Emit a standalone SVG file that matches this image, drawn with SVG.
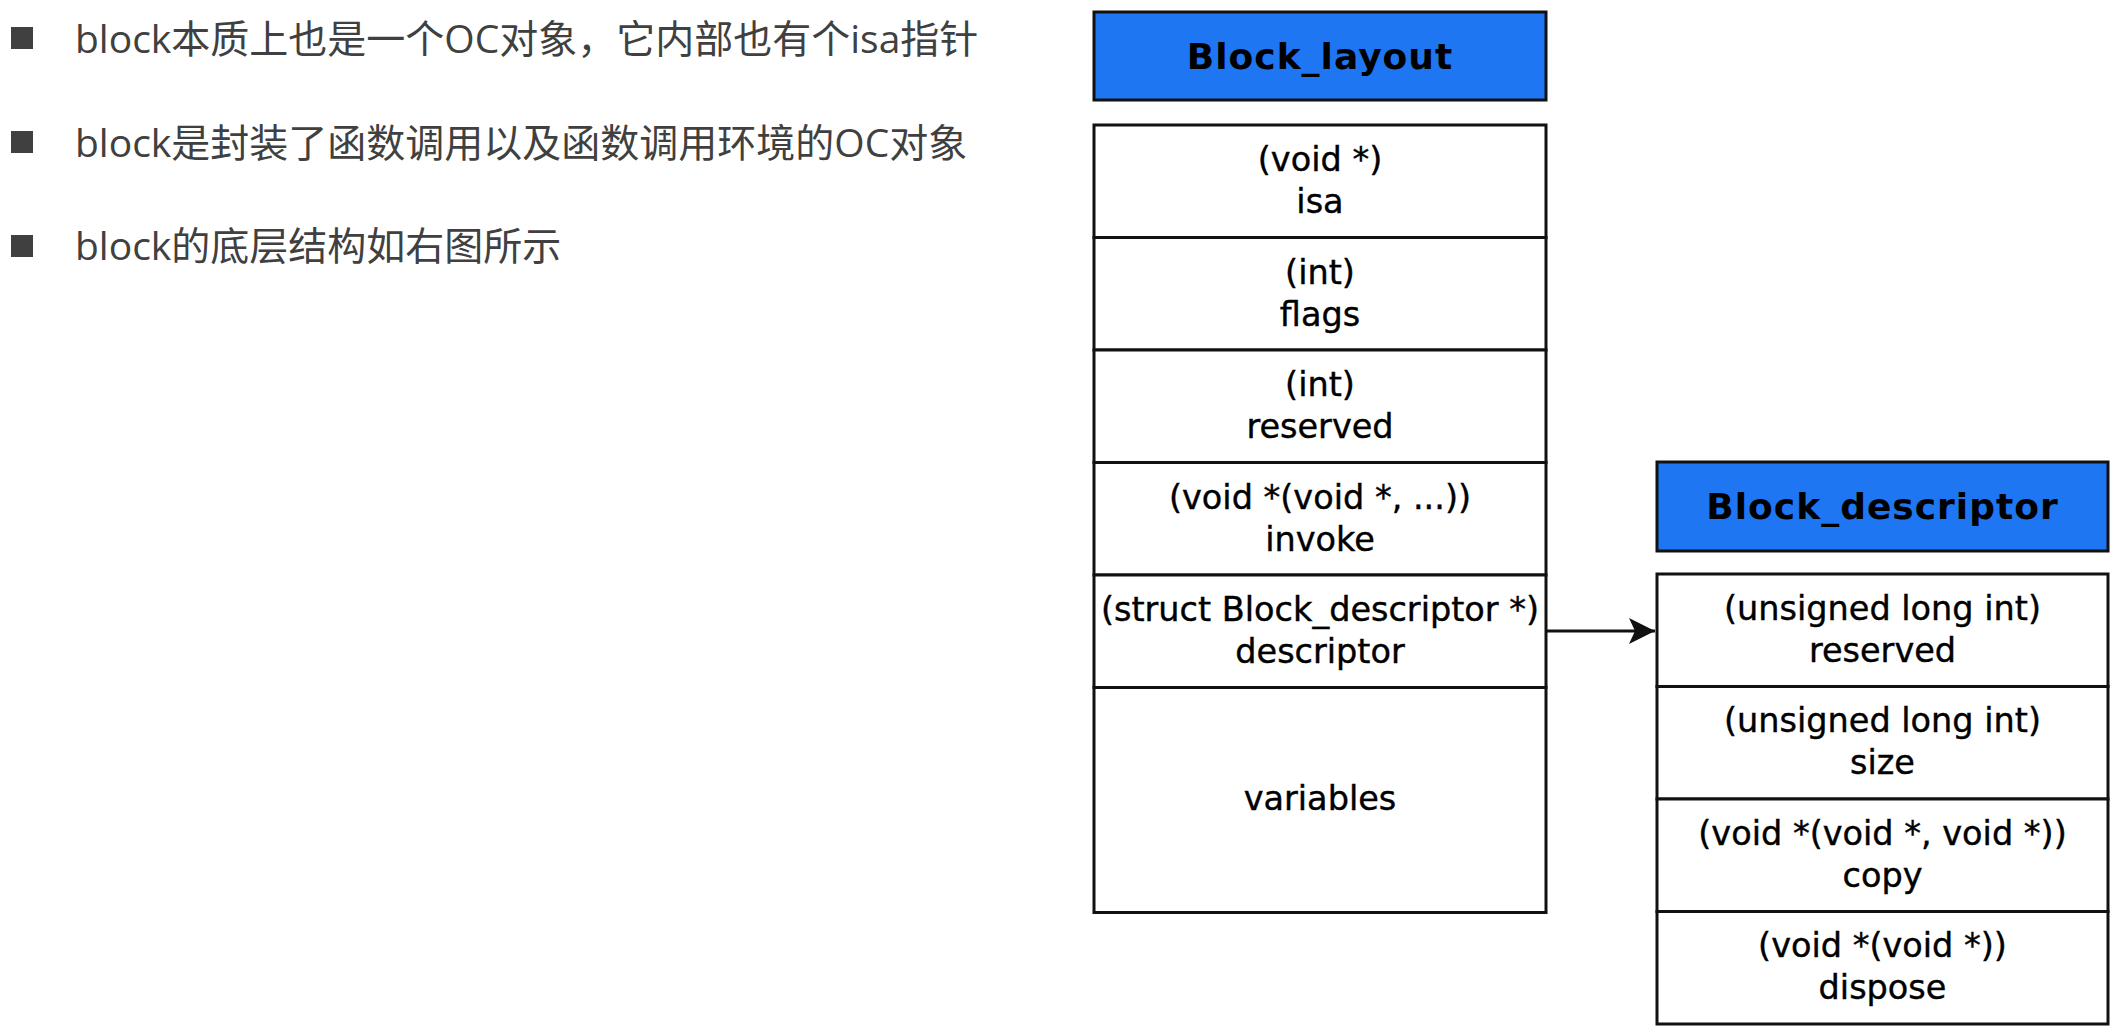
<svg xmlns="http://www.w3.org/2000/svg" width="2120" height="1036" viewBox="0 0 2120 1036">
  <style>
    .bullet-text { font-family: "Open Sans", "Noto Sans CJK SC", sans-serif; font-size: 39px; fill: #404040; }
    .bullet { fill: #404040; }
    .head { fill: #1f76f3; stroke: #111; stroke-width: 3; }
    .head-text { font-family: "DejaVu Sans", sans-serif; font-weight: bold; font-size: 36px; letter-spacing: 1px; fill: #000; text-anchor: middle; }
    .field { fill: #fff; stroke: #111; stroke-width: 3; }
    .field-text { font-family: "DejaVu Sans", sans-serif; font-size: 33.5px; fill: #000; stroke: #000; stroke-width: 0.4; text-anchor: middle; }
    .link { stroke: #111; stroke-width: 3; fill: none; }
  </style>
  <defs>
    <marker id="arrow" markerUnits="userSpaceOnUse" markerWidth="30" markerHeight="30" refX="26" refY="13" orient="auto">
      <path d="M0,0 L26,13 L0,26 L6,13 Z" fill="#111"/>
    </marker>
  </defs>

  <rect width="2120" height="1036" fill="#fff"/>

  <!-- bullet list -->
  <g id="notes">
    <rect class="bullet" x="11" y="27" width="22" height="22"/>
    <text class="bullet-text" x="75" y="53">block本质上也是一个OC对象，它内部也有个isa指针</text>
    <rect class="bullet" x="11" y="131" width="22" height="22"/>
    <text class="bullet-text" x="75" y="157">block是封装了函数调用以及函数调用环境的OC对象</text>
    <rect class="bullet" x="11" y="235" width="22" height="22"/>
    <text class="bullet-text" x="75" y="260">block的底层结构如右图所示</text>
  </g>

  <!-- Block_layout struct -->
  <g id="block_layout">
    <rect class="head" x="1094" y="12" width="452" height="88"/>
    <text class="head-text" x="1320" y="69">Block_layout</text>

    <rect class="field" x="1094" y="125" width="452" height="112.5"/>
    <text class="field-text" x="1320" y="171">(void *)</text>
    <text class="field-text" x="1320" y="213">isa</text>

    <rect class="field" x="1094" y="237.5" width="452" height="112.5"/>
    <text class="field-text" x="1320" y="284">(int)</text>
    <text class="field-text" x="1320" y="326">flags</text>

    <rect class="field" x="1094" y="350" width="452" height="112.5"/>
    <text class="field-text" x="1320" y="396">(int)</text>
    <text class="field-text" x="1320" y="438">reserved</text>

    <rect class="field" x="1094" y="462.5" width="452" height="112.5"/>
    <text class="field-text" x="1320" y="509">(void *(void *, ...))</text>
    <text class="field-text" x="1320" y="551">invoke</text>

    <rect class="field" x="1094" y="575" width="452" height="112.5"/>
    <text class="field-text" x="1320" y="621">(struct Block_descriptor *)</text>
    <text class="field-text" x="1320" y="663">descriptor</text>

    <rect class="field" x="1094" y="687.5" width="452" height="225"/>
    <text class="field-text" x="1320" y="810">variables</text>
  </g>

  <!-- Block_descriptor struct -->
  <g id="block_descriptor">
    <rect class="head" x="1657" y="462" width="451" height="89"/>
    <text class="head-text" x="1882.5" y="519">Block_descriptor</text>

    <rect class="field" x="1657" y="574" width="451" height="112.5"/>
    <text class="field-text" x="1882.5" y="620">(unsigned long int)</text>
    <text class="field-text" x="1882.5" y="662">reserved</text>

    <rect class="field" x="1657" y="686.5" width="451" height="112.5"/>
    <text class="field-text" x="1882.5" y="732">(unsigned long int)</text>
    <text class="field-text" x="1882.5" y="774">size</text>

    <rect class="field" x="1657" y="799" width="451" height="112.5"/>
    <text class="field-text" x="1882.5" y="845">(void *(void *, void *))</text>
    <text class="field-text" x="1882.5" y="887">copy</text>

    <rect class="field" x="1657" y="911.5" width="451" height="112.5"/>
    <text class="field-text" x="1882.5" y="957">(void *(void *))</text>
    <text class="field-text" x="1882.5" y="999">dispose</text>
  </g>

  <!-- connectors -->
  <g id="connectors">
    <line class="link" x1="1546" y1="631" x2="1655" y2="631" marker-end="url(#arrow)"/>
  </g>
</svg>
